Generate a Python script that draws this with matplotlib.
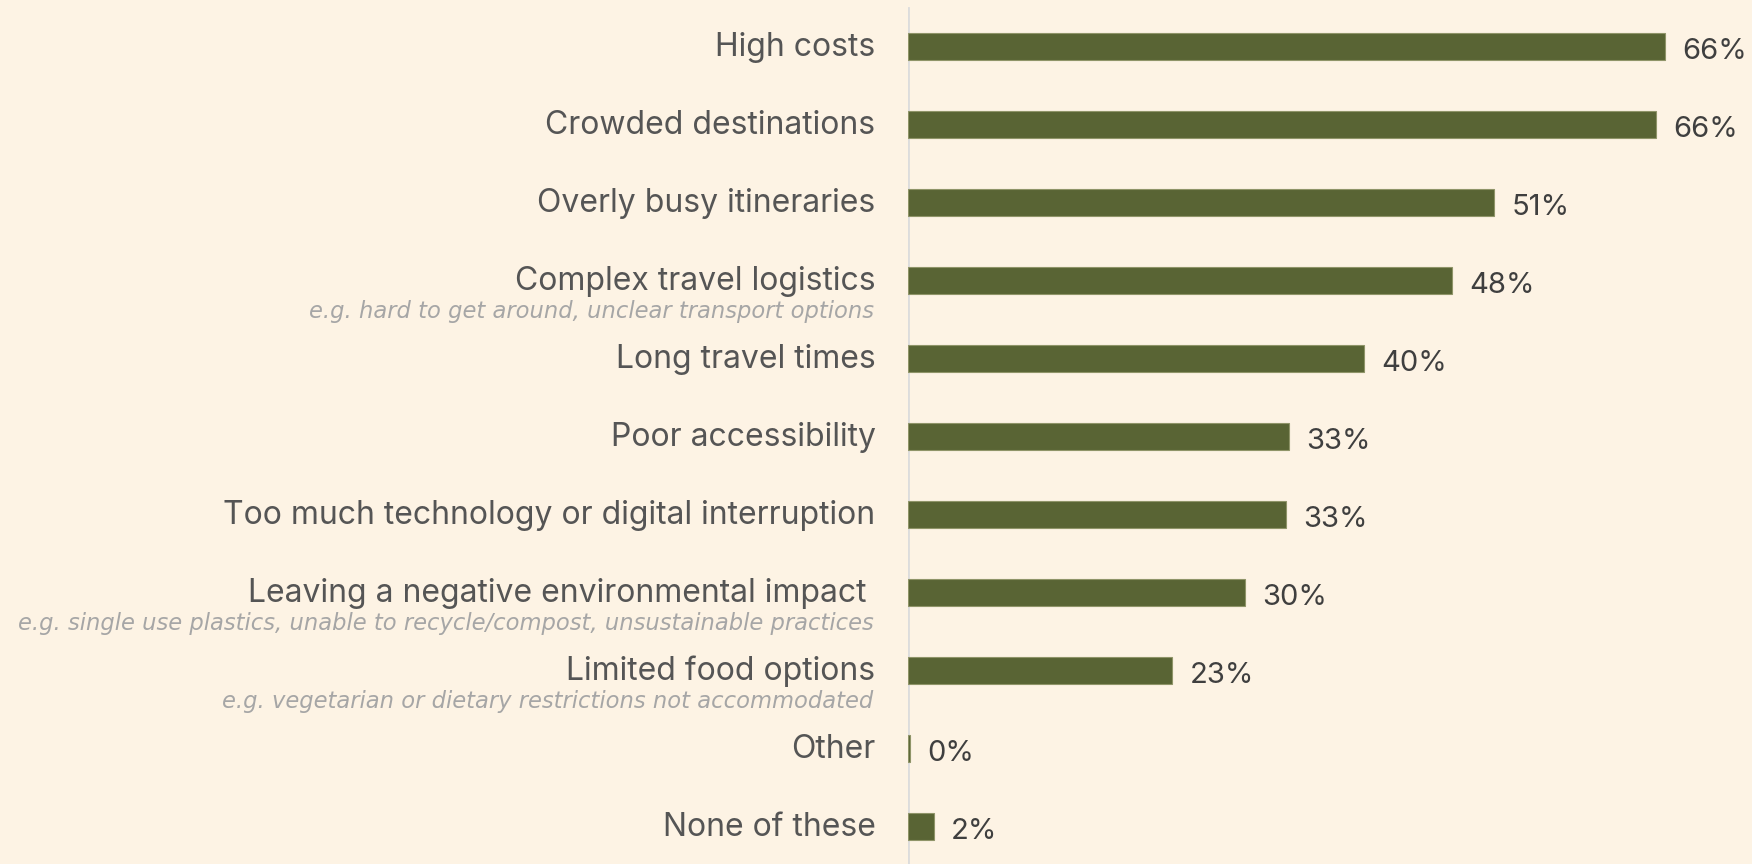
import matplotlib
matplotlib.use("Agg")
import matplotlib.pyplot as plt

# Survey results: travel pain points (share of respondents, %)
categories = [
    "High costs",
    "Crowded destinations",
    "Overly busy itineraries",
    "Complex travel logistics",
    "Long travel times",
    "Poor accessibility",
    "Too much technology or digital interruption",
    "Leaving a negative environmental impact ",
    "Limited food options",
    "Other",
    "None of these",
]
values = [66.4, 65.6, 51.4, 47.7, 40.0, 33.4, 33.2, 29.6, 23.2, 0.2, 2.3]
notes = {
    "Complex travel logistics": "e.g. hard to get around, unclear transport options",
    "Leaving a negative environmental impact ": "e.g. single use plastics, unable to recycle/compost, unsustainable practices",
    "Limited food options": "e.g. vegetarian or dietary restrictions not accommodated",
}

BG = "#FDF3E4"
BAR = "#596434"
BAR_EDGE = "#8f9468"
LABEL = "#555555"
VALUE = "#3f3f3f"
NOTE = "#a6a6a6"
FONT = ["Inter", "DejaVu Sans"]
NOTE_FONT = ["DejaVu Sans"]

W, H, DPI = 1752, 864, 100
fig = plt.figure(figsize=(W / DPI, H / DPI), dpi=DPI, facecolor=BG)

left_px = 907.5
ax = fig.add_axes([left_px / W, 0, 1 - left_px / W, 1])
ax.set_facecolor(BG)

pitch_px = 78.0
first_px = 46.5
n = len(categories)
ax.set_ylim((H - first_px) / pitch_px, -first_px / pitch_px)
ax.set_xlim(0, (W - left_px) / 11.415)

ypos = list(range(n))
ax.barh(ypos, values, height=27 / pitch_px, color=BAR,
        edgecolor=BAR_EDGE, linewidth=0.8, zorder=2)

# thin baseline at zero
ax.axvline(0, ymin=0, ymax=(H - 8) / H, color="#dcdcdc", lw=2, zorder=1)

pt = 72 / DPI  # pixels -> points
for y, cat, v in zip(ypos, categories, values):
    ax.annotate(cat, xy=(0, y), xytext=(-32 * pt, -9 * pt),
                textcoords="offset points", ha="right", va="baseline",
                fontsize=23, color=LABEL, family=FONT, annotation_clip=False)
    if cat in notes:
        ax.annotate(notes[cat], xy=(0, y), xytext=(-34 * pt, -37.5 * pt),
                    textcoords="offset points", ha="right", va="baseline",
                    fontsize=16.3, style="italic", color=NOTE, family=NOTE_FONT,
                    annotation_clip=False)
    ax.annotate(f"{v:.0f}%", xy=(v, y), xytext=(17 * pt, -12 * pt),
                textcoords="offset points", ha="left", va="baseline",
                fontsize=21, color=VALUE, family=FONT, annotation_clip=False)

ax.axis("off")
fig.savefig("out.png", dpi=DPI, facecolor=BG)
